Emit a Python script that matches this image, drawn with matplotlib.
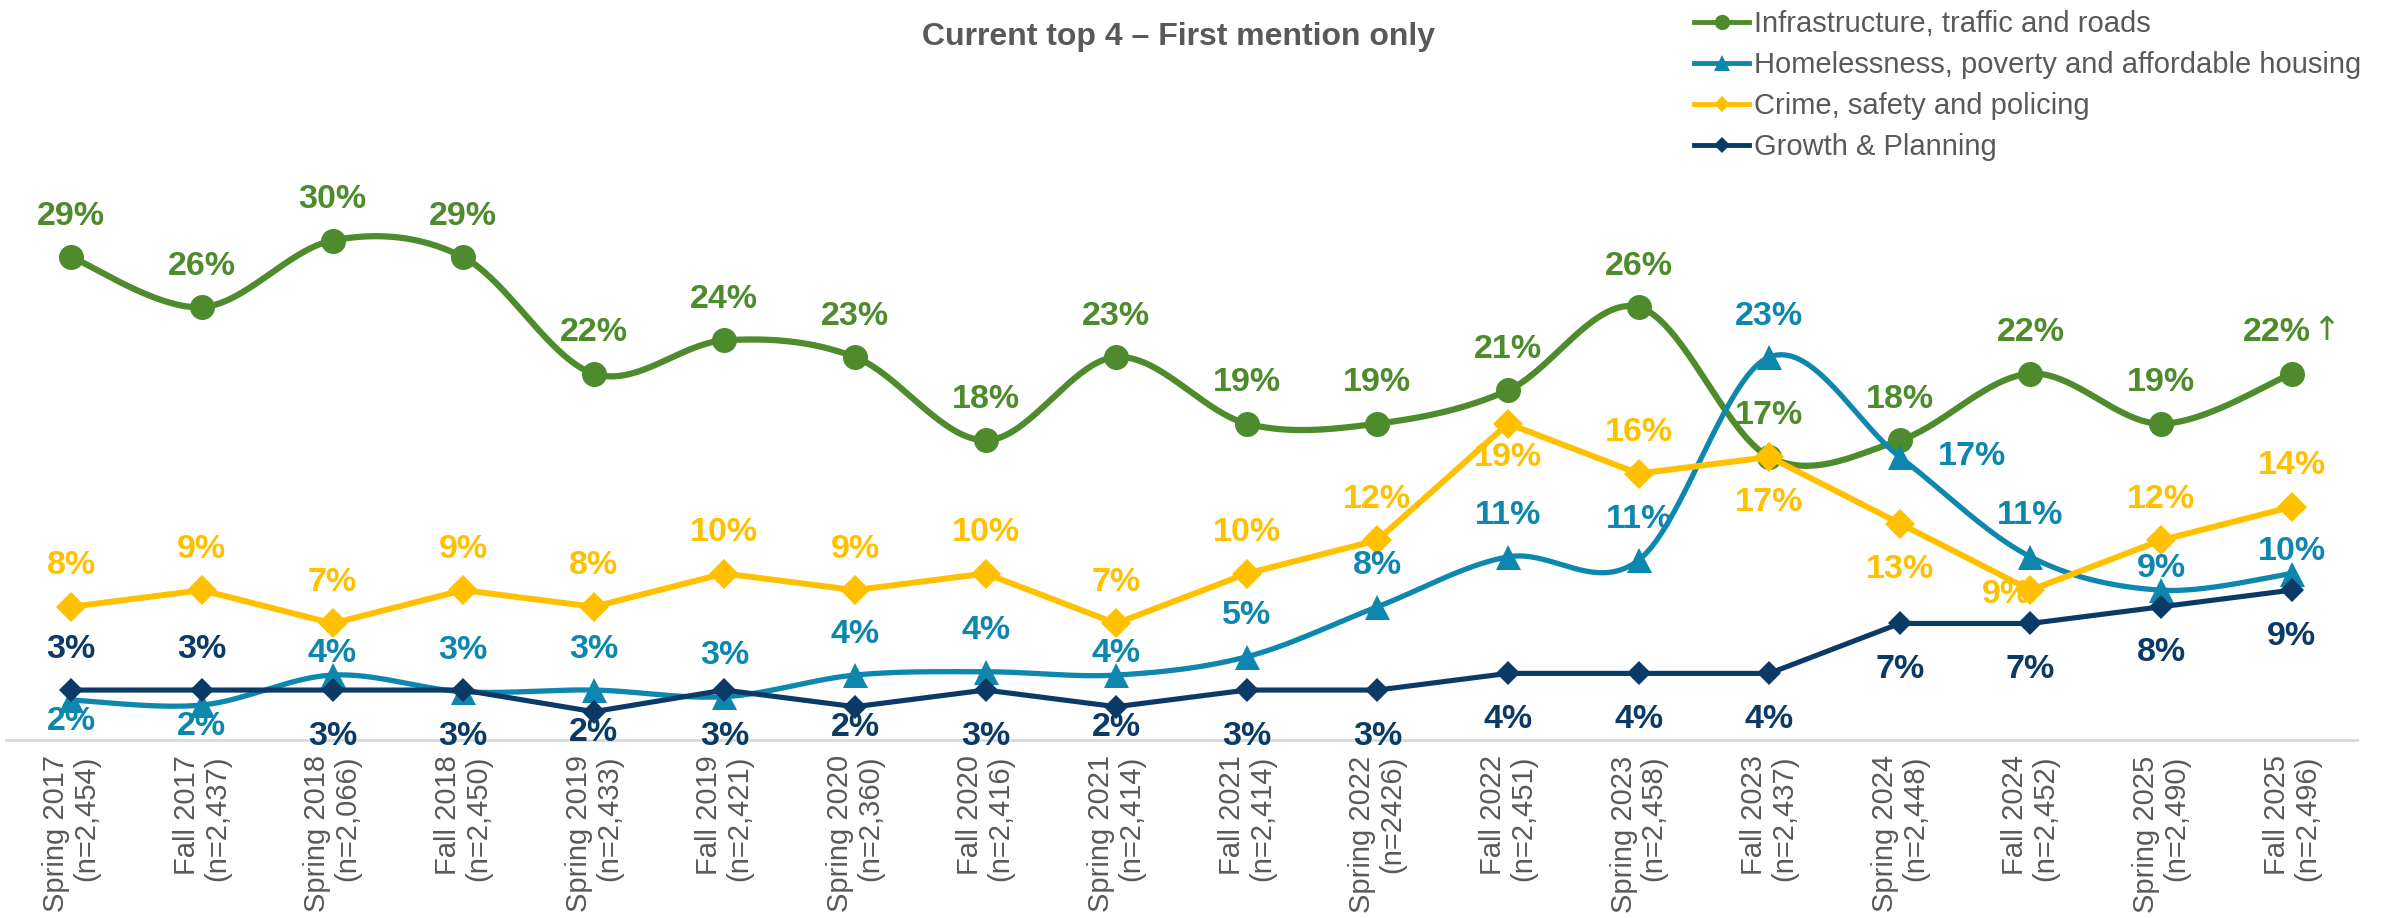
import numpy as np
import matplotlib
matplotlib.use("Agg")
import matplotlib.pyplot as plt
from matplotlib.lines import Line2D

# ---------------- data ----------------
periods = ["Spring 2017\n(n=2,454)", "Fall 2017\n(n=2,437)", "Spring 2018\n(n=2,066)",
           "Fall 2018\n(n=2,450)", "Spring 2019\n(n=2,433)", "Fall 2019\n(n=2,421)",
           "Spring 2020\n(n=2,360)", "Fall 2020\n(n=2,416)", "Spring 2021\n(n=2,414)",
           "Fall 2021\n(n=2,414)", "Spring 2022\n(n=2426)", "Fall 2022\n(n=2,451)",
           "Spring 2023\n(n=2,458)", "Fall 2023\n(n=2,437)", "Spring 2024\n(n=2,448)",
           "Fall 2024\n(n=2,452)", "Spring 2025\n(n=2,490)", "Fall 2025\n(n=2,496)"]

infrastructure = [29, 26, 30, 29, 22, 24, 23, 18, 23, 19, 19, 21, 26, 17, 18, 22, 19, 22]
homelessness   = [2.4, 2.1, 3.9, 2.9, 3.0, 2.6, 3.9, 4.1, 3.9, 5.0, 8, 11, 10.8, 23, 17, 11, 9, 10]
crime          = [8, 9, 7, 9, 8, 10, 9, 10, 7, 10, 12, 19, 16, 17, 13, 9, 12, 14]
growth         = [3, 3, 3, 3, 1.7, 3, 2, 3, 2, 3, 3, 4, 4, 4, 7, 7, 8, 9]

series_names = ["Infrastructure, traffic and roads",
                "Homelessness, poverty and affordable housing",
                "Crime, safety and policing",
                "Growth & Planning"]

# ---------------- style ----------------
GREEN = "#4E8B2C"
BLUE = "#0E87AE"
YELLOW = "#FFC000"
NAVY = "#0B3A66"
GRAY = "#595959"

plt.rcParams["font.family"] = ["Liberation Sans", "DejaVu Sans"]

# label placement codes
OFFSETS = {"a": (0, 41), "A": (0, 22), "b": (0, -46), "c": (0, -34), "B": (0, -21),
           "l": (-24, -4), "r": (72, 0)}
place_green = ["a"] * 18
place_blue = ["B", "B", "A", "a", "a", "a", "a", "a", "A", "a", "a", "a", "a", "a", "r", "a", "A", "A"]
place_crime = ["a"] * 11 + ["c", "a", "b", "b", "l", "a", "a"]
place_growth = ["a", "a", "b", "b", "B", "b", "B", "b", "B", "b", "b", "b", "b", "b", "b", "b", "b", "b"]


def smooth(xs, ys, n=40):
    P = np.column_stack([xs, ys]).astype(float)
    out = []
    for i in range(len(P) - 1):
        p0 = P[i - 1] if i > 0 else P[i]
        p1 = P[i]
        p2 = P[i + 1]
        p3 = P[i + 2] if i + 2 < len(P) else P[i + 1]
        c1 = p1 + (p2 - p0) / 6.0
        c2 = p2 - (p3 - p1) / 6.0
        t = np.linspace(0, 1, n)[:, None]
        seg = (1 - t) ** 3 * p1 + 3 * (1 - t) ** 2 * t * c1 + 3 * (1 - t) * t ** 2 * c2 + t ** 3 * p2
        out.append(seg if i == 0 else seg[1:])
    return np.vstack(out)


fig = plt.figure(figsize=(23.97, 9.18), dpi=100)
W, H = 2397, 918
ax = fig.add_axes([6 / W, (H - 740) / H, (2357 - 6) / W, (740 - 74) / H])

x = np.arange(len(periods))

specs = [
    (infrastructure, GREEN, "o", 18, 4.5, True, place_green, 11),
    (homelessness, BLUE, "^", 18, 3.8, True, place_blue, 11),
    (crime, YELLOW, "D", 15.5, 4.3, False, place_crime, 8),
    (growth, NAVY, "D", 12, 3.7, False, place_growth, 8),
]

LBL = dict(fontsize=24.5, fontweight="bold", family=["Liberation Sans", "DejaVu Sans"],
           textcoords="offset pixels", ha="center", va="center", zorder=10)

handles = []
for k, (vals, col, mk, ms, lw, sm, place, lms) in enumerate(specs):
    z = 2 + k
    if sm:
        c = smooth(x, vals)
        ax.plot(c[:, 0], c[:, 1], color=col, lw=lw, solid_capstyle="round", zorder=z)
    else:
        ax.plot(x, vals, color=col, lw=lw, zorder=z)
    ax.plot(x, vals, ls="none", marker=mk, ms=ms, color=col, mec=col, mew=0, zorder=z + 0.5)
    handles.append(Line2D([0], [0], color=col, lw=3.5, marker=mk, ms=lms, mec=col, mew=0))

    for i, v in enumerate(vals):
        off = OFFSETS[place[i]]
        txt = f"{v:.0f}%"
        if k == 0 and i == len(vals) - 1:
            ax.annotate(txt, (x[i], v), xytext=(off[0] - 15, off[1]), color=col, **LBL)
            ax.annotate("\u2191", (x[i], v), xytext=(off[0] + 34, off[1] + 2),
                        textcoords="offset pixels", ha="center", va="center",
                        fontsize=24, color=col, family=["DejaVu Sans"], zorder=10)
            continue
        ax.annotate(txt, (x[i], v), xytext=off, color=col, **LBL)

ax.set_xlim(-0.5, len(periods) - 0.5)
ax.set_ylim(0, 40)
ax.set_yticks([])
ax.set_xticks(x)
ax.set_xticklabels(periods, rotation=90, ha="center", va="top", multialignment="right",
                   fontsize=21, color=GRAY, linespacing=1.1)
ax.tick_params(axis="x", length=0, pad=11)
for s in ["top", "right", "left"]:
    ax.spines[s].set_visible(False)
ax.spines["bottom"].set_color("#D9D9D9")
ax.spines["bottom"].set_linewidth(2)
ax.patch.set_alpha(0)

fig.text(1179 / W, 1 - 37 / H, "Current top 4 \u2013 First mention only", ha="center", va="center",
         fontsize=23, fontweight="bold", color=GRAY)

leg = fig.legend(handles, series_names, loc="upper left", bbox_to_anchor=(1694 / W, 1 - 10 / H),
                 frameon=False, fontsize=21, handlelength=1.9, handletextpad=0.15,
                 labelspacing=0.45, borderpad=0, borderaxespad=0)
for t in leg.get_texts():
    t.set_color(GRAY)

fig.savefig("out.png", dpi=100)
